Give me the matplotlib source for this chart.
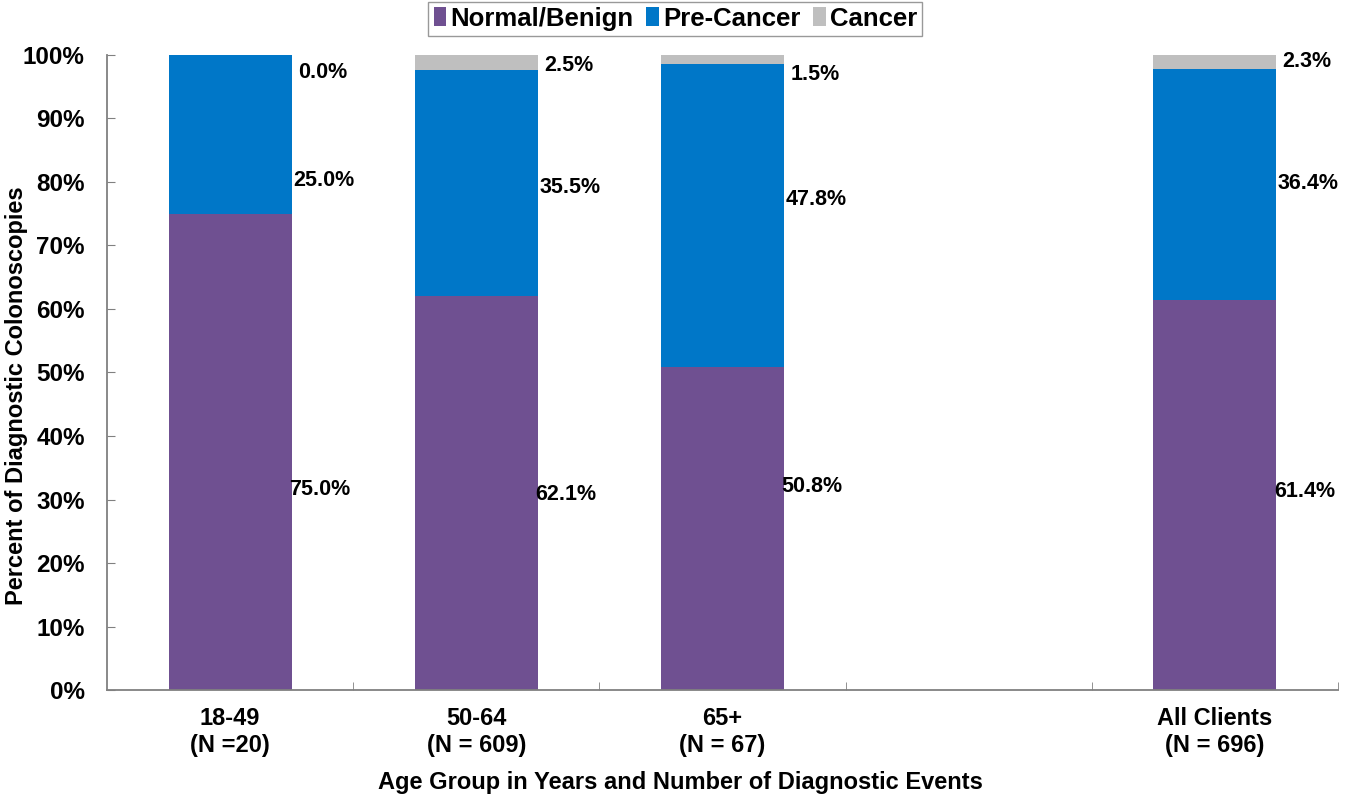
import numpy as np
import matplotlib.pyplot as plt
from matplotlib.patches import Patch

categories = ["18-49\n(N =20)", "50-64\n(N = 609)", "65+\n(N = 67)", "", "All Clients\n(N = 696)"]
normal = [75.0, 62.1, 50.8, np.nan, 61.4]
pre_cancer = [25.0, 35.5, 47.8, np.nan, 36.4]
cancer = [0.0, 2.5, 1.5, np.nan, 2.3]
# label heights (percent) as placed in the original chart
normal_label_y = [31.5, 30.8, 32.0, np.nan, 31.2]
pre_label_y = [80.2, 79.2, 77.2, np.nan, 79.8]
cancer_label_y = [97.2, 98.4, 96.9, np.nan, 98.9]

colors = {"Normal/Benign": "#6F5091", "Pre-Cancer": "#0077C8", "Cancer": "#BFBFBF"}

plt.rcParams.update({
    "font.family": "Liberation Sans",
    "font.weight": "bold",
    "axes.labelweight": "bold",
    "font.size": 17,
})

fig = plt.figure(figsize=(13.56, 7.99), dpi=100)
ax = fig.add_axes([0.0789, 0.1364, 0.9078, 0.7948])

x = np.arange(len(categories))
n = np.array(normal)
p = np.array(pre_cancer)
c = np.array(cancer)
ax.bar(x, n, width=0.5, color=colors["Normal/Benign"])
ax.bar(x, p, width=0.5, bottom=n, color=colors["Pre-Cancer"])
ax.bar(x, c, width=0.5, bottom=n + p, color=colors["Cancer"])

for i in range(len(categories)):
    if np.isnan(n[i]):
        continue
    xr = x[i] + 0.25 + 0.01
    ax.text(xr - 0.02, normal_label_y[i], f"{n[i]:.1f}%", ha="left", va="center", fontsize=15.5)
    ax.text(xr - 0.005, pre_label_y[i], f"{p[i]:.1f}%", ha="left", va="center", fontsize=15.5)
    ax.text(xr + 0.015, cancer_label_y[i], f"{c[i]:.1f}%", ha="left", va="center", fontsize=15.5)

ax.set_xlim(-0.5, len(categories) - 0.5)
ax.set_ylim(0, 100)
ax.set_yticks(np.arange(0, 101, 10))
ax.set_yticklabels([f"{v}%" for v in range(0, 101, 10)])
ax.set_xticks(x)
ax.set_xticklabels(categories, linespacing=1.25)
ax.set_xticks(np.arange(0.5, len(categories) - 0.4, 1.0), minor=True)
ax.tick_params(axis="x", which="major", length=0, pad=12, labelsize=17)
ax.tick_params(axis="x", which="minor", direction="in", length=6, color="#808080")
ax.tick_params(axis="y", direction="in", length=6, color="#808080", pad=16, labelsize=17.5)

for side in ["top", "right"]:
    ax.spines[side].set_visible(False)
for side in ["left", "bottom"]:
    ax.spines[side].set_color("#808080")
    ax.spines[side].set_linewidth(1.3)

ax.set_ylabel("Percent of Diagnostic Colonoscopies", fontsize=17)
ax.yaxis.set_label_coords(-0.0645, 0.463)
ax.set_xlabel("Age Group in Years and Number of Diagnostic Events", fontsize=17)
ax.xaxis.set_label_coords(0.466, -0.128)

handles = [Patch(facecolor=v, edgecolor="none", label=k) for k, v in colors.items()]
leg = fig.legend(handles=handles, loc="upper center", bbox_to_anchor=(0.498, 0.998), ncol=3,
                 frameon=True, fancybox=False, fontsize=18.5, handlelength=0.5,
                 handleheight=0.75, handletextpad=0.15, columnspacing=0.5,
                 borderpad=0.2, borderaxespad=0.0)
leg.get_frame().set_edgecolor("#808080")
leg.get_frame().set_linewidth(1.0)

fig.savefig("out.png", dpi=100)
